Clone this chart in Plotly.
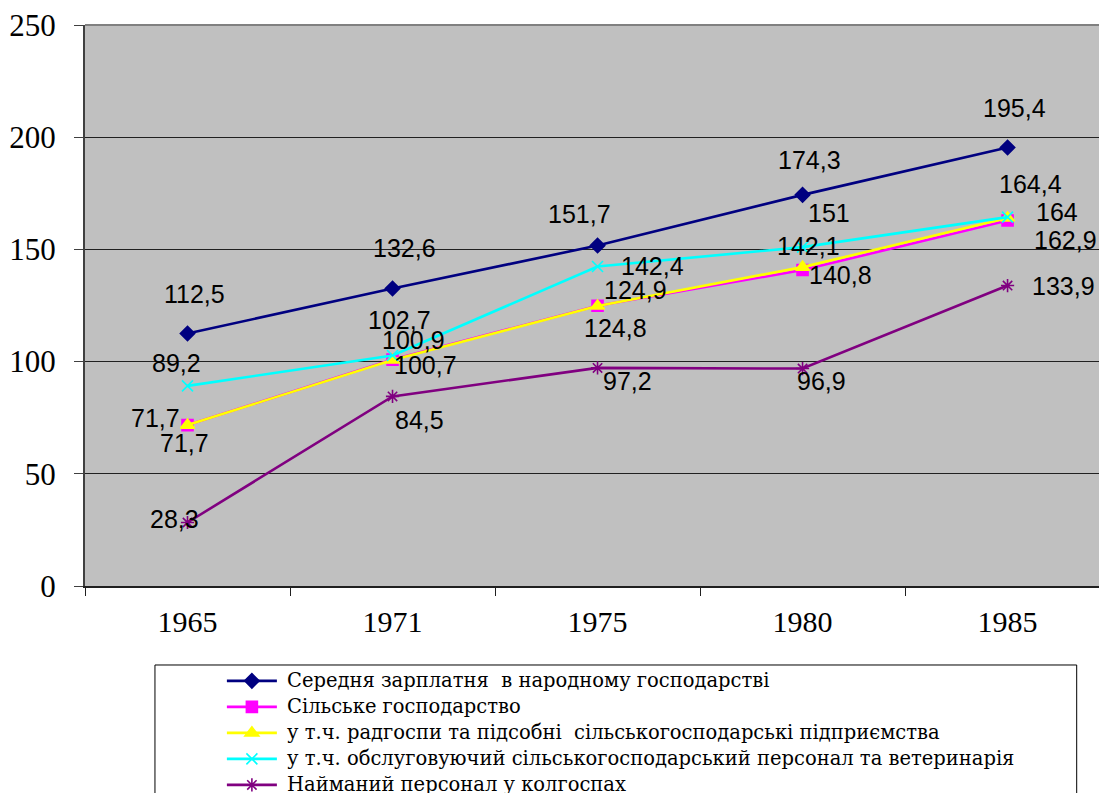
import plotly.graph_objects as go

years = ["1965", "1971", "1975", "1980", "1985"]

names = [
    "Середня зарплатня  в народному господарстві",
    "Сільське господарство",
    "у т.ч. радгоспи та підсобні  сільськогосподарські підприємства",
    "у т.ч. обслуговуючий сільськогосподарський персонал та ветеринарія",
    "Найманий персонал у колгоспах",
]

avg_wage = [112.5, 132.6, 151.7, 174.3, 195.4]
agriculture = [71.7, 100.9, 124.9, 140.8, 162.9]
state_farms = [71.7, 100.7, 124.8, 142.1, 164.0]
service_staff = [89.2, 102.7, 142.4, 151.0, 164.4]
hired_kolkhoz = [28.3, 84.5, 97.2, 96.9, 133.9]

series = [avg_wage, agriculture, state_farms, service_staff, hired_kolkhoz]

colors = ["#000080", "#FF00FF", "#FFFF00", "#00FFFF", "#800080"]
symbols = ["diamond", "square", "triangle-up", "x-thin-open", "asterisk-open"]
msizes = [11, 11, 12, 11, 11]

# label offsets in pixels (dx right, dy down) for each series point
offsets = [
    [(7, -40), (12, -40), (-18, -32), (7, -35), (7, -40)],
    [(-32, -7), (21, -20), (38, -16), (38, 5), (58, 20)],
    [(-3, 18), (33, 5), (18, 22), (6, -21), (49, -6)],
    [(-11, -23), (7, -36), (55, 0), (26, -34), (23, -33)],
    [(-13, -3), (27, 24), (30, 13), (19, 12), (56, 0)],
]

SERIF = "Liberation Serif, Times New Roman, serif"
LEGEND_FONT = "DejaVu Serif, Liberation Serif, serif"

fig = go.Figure()
for name, vals, c, s, ms in zip(names, series, colors, symbols, msizes):
    style = dict(
        line=dict(color=c, width=2.6),
        marker=dict(symbol=s, size=ms, color=c, line=dict(color=c, width=1.6)),
    )
    fig.add_trace(go.Scatter(
        x=years, y=vals, name=name, mode="lines+markers",
        showlegend=False, legendgroup=name, cliponaxis=False, **style,
    ))
    # legend key (symbol only); its text is drawn as an annotation below
    fig.add_trace(go.Scatter(
        x=[None], y=[None], name="\u00a0", mode="lines+markers",
        showlegend=True, legendgroup=name, **style,
    ))

def fmt(v):
    s = ("%.1f" % v).rstrip("0").rstrip(".")
    return s.replace(".", ",")

annotations = []
for vals, offs in zip(series, offsets):
    for i, (v, (dx, dy)) in enumerate(zip(vals, offs)):
        annotations.append(dict(
            x=i, y=v, xref="x", yref="y", text=fmt(v), showarrow=False,
            xshift=dx, yshift=-dy,
            font=dict(family="Liberation Sans, Arial", size=25, color="black"),
        ))

# legend texts (rows spaced like the legend keys)
LEG_TOP = -0.1676   # paper y of first legend row centre
LEG_STEP = 0.04635  # paper units between rows
for k, name in enumerate(names):
    annotations.append(dict(
        x=0.1972, y=LEG_TOP - k * LEG_STEP, xref="paper", yref="paper",
        xanchor="left", yanchor="middle", text=name, showarrow=False,
        font=dict(family=LEGEND_FONT, size=19.5, color="black"),
    ))

fig.update_layout(
    width=1099, height=793,
    margin=dict(l=85, r=0, t=25, b=207, autoexpand=False),
    paper_bgcolor="white", plot_bgcolor="#C0C0C0",
    showlegend=True,
    legend=dict(
        x=0.135, y=-0.137, xanchor="left", yanchor="top",
        font=dict(family=SERIF, size=17.7, color="black"),
        bgcolor="rgba(0,0,0,0)", borderwidth=0,
        itemwidth=50, tracegroupgap=0,
    ),
    annotations=annotations,
    shapes=[
        dict(type="rect", xref="paper", yref="paper", x0=0.069, x1=0.978,
             y0=-0.45, y1=-0.1408, line=dict(color="black", width=1)),
        dict(type="line", xref="paper", yref="paper", x0=0, x1=1, y0=1, y1=1,
             line=dict(color="#808080", width=2)),
    ],
)

fig.update_xaxes(
    type="category", range=[-0.5, 4.446],
    showgrid=False, showline=True, linecolor="#202020", linewidth=2,
    ticks="outside", tickson="boundaries", ticklen=8, tickcolor="#202020",
    tickfont=dict(family=SERIF, size=30, color="black"),
    ticklabelstandoff=8, ticklabeloverflow="allow",
)
fig.update_yaxes(
    range=[0, 250], dtick=50,
    showgrid=True, gridcolor="#202020", gridwidth=1,
    showline=True, linecolor="#404040", linewidth=2,
    ticks="outside", ticklen=9, tickcolor="#404040",
    tickfont=dict(family=SERIF, size=31, color="black"),
    ticklabelstandoff=12, zeroline=False, ticklabeloverflow="allow",
)

fig.write_html(
    "out.html",
    config={"displayModeBar": False},
    post_script="document.body.style.margin='0';document.body.style.overflow='hidden';",
)
